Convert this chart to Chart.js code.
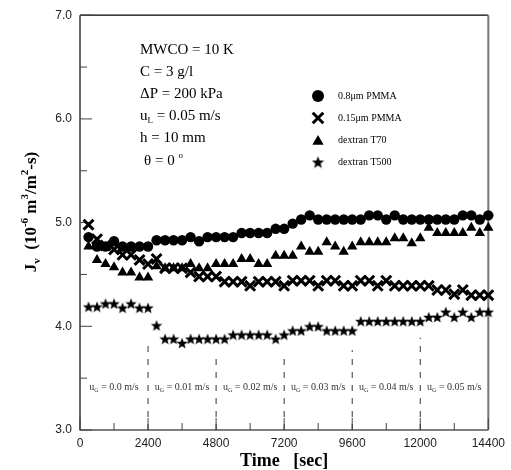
<!DOCTYPE html>
<html>
<head>
<meta charset="utf-8">
<script src="https://cdn.jsdelivr.net/npm/chart.js@4.4.0/dist/chart.umd.min.js"></script>
<style>
  html, body { margin: 0; padding: 0; background: #fff; }
  canvas { display: block; }
</style>
</head>
<body>
<canvas id="fluxChart" width="511" height="470"></canvas>
<script>
// Sampling times (sec)
const timeSec = [300, 600, 900, 1200, 1500, 1800, 2100, 2400, 2700, 3000, 3300, 3600,
  3900, 4200, 4500, 4800, 5100, 5400, 5700, 6000, 6300, 6600, 6900, 7200,
  7500, 7800, 8100, 8400, 8700, 9000, 9300, 9600, 9900, 10200, 10500, 10800,
  11100, 11400, 11700, 12000, 12300, 12600, 12900, 13200, 13500, 13800, 14100, 14400];

// Permeate flux Jv (10^-6 m3/m2-s)
const fluxPmma08 = [4.86, 4.77, 4.77, 4.82, 4.77, 4.77, 4.77, 4.77, 4.83, 4.83, 4.83, 4.83,
  4.86, 4.82, 4.86, 4.86, 4.86, 4.86, 4.90, 4.90, 4.90, 4.90, 4.94, 4.94,
  4.99, 5.03, 5.07, 5.03, 5.03, 5.03, 5.03, 5.03, 5.03, 5.07, 5.07, 5.03,
  5.07, 5.03, 5.03, 5.03, 5.03, 5.03, 5.03, 5.03, 5.07, 5.07, 5.03, 5.07];
const fluxPmma015 = [4.98, 4.84, 4.78, 4.74, 4.69, 4.69, 4.64, 4.60, 4.65, 4.56, 4.56, 4.56,
  4.52, 4.48, 4.48, 4.48, 4.43, 4.43, 4.43, 4.39, 4.43, 4.43, 4.43, 4.39,
  4.44, 4.44, 4.44, 4.39, 4.44, 4.44, 4.39, 4.39, 4.44, 4.44, 4.39, 4.44,
  4.39, 4.39, 4.39, 4.39, 4.39, 4.35, 4.35, 4.31, 4.35, 4.30, 4.30, 4.30];
const fluxT70 = [4.77, 4.64, 4.60, 4.57, 4.52, 4.52, 4.47, 4.47, 4.58, 4.56, 4.56, 4.56,
  4.60, 4.56, 4.56, 4.60, 4.60, 4.60, 4.65, 4.65, 4.60, 4.60, 4.68, 4.68,
  4.68, 4.77, 4.72, 4.72, 4.81, 4.77, 4.72, 4.77, 4.81, 4.81, 4.81, 4.81,
  4.85, 4.85, 4.80, 4.85, 4.95, 4.90, 4.90, 4.90, 4.90, 4.95, 4.90, 4.95];
const fluxT500 = [4.19, 4.19, 4.22, 4.22, 4.18, 4.22, 4.18, 4.18, 4.01, 3.88, 3.88, 3.84,
  3.88, 3.88, 3.88, 3.88, 3.88, 3.92, 3.92, 3.92, 3.92, 3.92, 3.88, 3.92,
  3.96, 3.96, 4.00, 4.00, 3.96, 3.96, 3.96, 3.96, 4.05, 4.05, 4.05, 4.05,
  4.05, 4.05, 4.05, 4.05, 4.09, 4.09, 4.14, 4.09, 4.14, 4.09, 4.14, 4.14];

const seriesLabels = ['0.8\u03bcm PMMA', '0.15\u03bcm PMMA', 'dextran T70', 'dextran T500'];

// Axis ticks
const xTickValues = [0, 2400, 4800, 7200, 9600, 12000, 14400];
const xMinorTicks = [1200, 3600, 6000, 8400, 10800, 13200];
const yTickValues = [3, 4, 5, 6, 7];
const yMinorTicks = [3.5, 4.5, 5.5, 6.5];

// Gas velocity stages
const stageBounds = [0, 2400, 4800, 7200, 9600, 12000, 14400];
const stageVelocities = ['0.0', '0.01', '0.02', '0.03', '0.04', '0.05'];
const dividerTops = [3.85, 3.70, 3.71, 3.77, 3.89];
const stageLabelY = 3.415;

// Operating conditions
const infoLines = [
  [['MWCO = 10 K', 'n']],
  [['C = 3 g/l', 'n']],
  [['\u0394P = 200 kPa', 'n']],
  [['u', 'n'], ['L', 'sub'], [' = 0.05 m/s', 'n']],
  [['h = 10 mm', 'n']],
  [['\u03b8 = 0 ', 'n'], ['o', 'sup']]
];

const SERIF = '"Liberation Serif", "Times New Roman", serif';
const SANS = '"Liberation Sans", Arial, sans-serif';

function makeStar(size) {
  const c = document.createElement('canvas');
  c.width = size; c.height = size;
  const g = c.getContext('2d');
  const cx = size / 2, cy = size / 2 + size * 0.06, R = size / 2, r = R * 0.42;
  g.beginPath();
  for (let k = 0; k < 10; k++) {
    const a = -Math.PI / 2 + k * Math.PI / 5;
    const rad = k % 2 === 0 ? R : r;
    g.lineTo(cx + rad * Math.cos(a), cy + rad * Math.sin(a));
  }
  g.closePath();
  g.fillStyle = '#000';
  g.fill();
  return c;
}
const starImg = makeStar(12);
const starImgLegend = makeStar(13);

const markerStyles = [
  { pointStyle: 'circle', radius: 5.2, borderWidth: 0 },
  { pointStyle: 'crossRot', radius: 7, borderWidth: 3 },
  { pointStyle: 'triangle', radius: 6, borderWidth: 0 },
  { pointStyle: starImg, radius: 6, borderWidth: 0 }
];
const legendStyles = [
  { pointStyle: 'circle', radius: 6, borderWidth: 0 },
  { pointStyle: 'crossRot', radius: 7.5, borderWidth: 3 },
  { pointStyle: 'triangle', radius: 6.5, borderWidth: 0 },
  { pointStyle: starImgLegend, radius: 6.5, borderWidth: 0 }
];

function toPoints(values) {
  return values.map((v, i) => ({ x: timeSec[i], y: v }));
}

const seriesValues = [fluxPmma08, fluxPmma015, fluxT70, fluxT500];
const datasets = seriesValues.map((vals, k) => ({
  label: seriesLabels[k],
  data: toPoints(vals),
  pointStyle: markerStyles[k].pointStyle,
  pointRadius: markerStyles[k].radius,
  pointHoverRadius: markerStyles[k].radius,
  pointBackgroundColor: '#000',
  pointBorderColor: '#000',
  pointBorderWidth: markerStyles[k].borderWidth,
  showLine: false,
  clip: false
}));

// dashed stage dividers
dividerTops.forEach((top, k) => {
  const xb = stageBounds[k + 1];
  datasets.push({
    label: 'divider' + k,
    data: [{ x: xb, y: 3 }, { x: xb, y: top }],
    showLine: true,
    borderColor: '#333',
    borderWidth: 1,
    borderDash: [6, 7],
    pointRadius: 0,
    pointHoverRadius: 0,
    clip: false
  });
});

function drawRich(ctx, parts, x, y, size, bold, align) {
  const base = (bold ? 'bold ' : '') + size + 'px ' + SERIF;
  const small = (bold ? 'bold ' : '') + Math.round(size * 0.62) + 'px ' + SERIF;
  let total = 0;
  const widths = parts.map(([t, k]) => {
    ctx.font = k === 'n' ? base : small;
    const w = ctx.measureText(t).width;
    total += w;
    return w;
  });
  let cx = align === 'center' ? x - total / 2 : x;
  ctx.textAlign = 'left';
  ctx.textBaseline = 'middle';
  parts.forEach(([t, k], i) => {
    ctx.font = k === 'n' ? base : small;
    const dy = k === 'sub' ? size * 0.3 : (k === 'sup' ? -size * 0.38 : 0);
    ctx.fillText(t, cx, y + dy);
    cx += widths[i];
  });
}

const decor = {
  id: 'decor',
  beforeDatasetsDraw(chart) {
    const { ctx, chartArea: a, scales: { x, y } } = chart;
    ctx.save();
    // frame
    ctx.strokeStyle = '#000';
    ctx.lineWidth = 1.2;
    ctx.beginPath();
    ctx.moveTo(a.left, a.top); ctx.lineTo(a.left, a.bottom); ctx.lineTo(a.right, a.bottom);
    ctx.moveTo(a.left, a.top); ctx.lineTo(a.right, a.top);
    ctx.stroke();
    ctx.strokeStyle = '#777';
    ctx.lineWidth = 2;
    ctx.beginPath();
    ctx.moveTo(a.right, a.top); ctx.lineTo(a.right, a.bottom);
    ctx.stroke();
    // inward ticks
    ctx.strokeStyle = '#444';
    ctx.lineWidth = 1;
    ctx.beginPath();
    yTickValues.forEach(v => { const py = y.getPixelForValue(v); ctx.moveTo(a.left, py); ctx.lineTo(a.left + 12, py); });
    yMinorTicks.forEach(v => { const py = y.getPixelForValue(v); ctx.moveTo(a.left, py); ctx.lineTo(a.left + 7, py); });
    xTickValues.forEach(v => { const px = x.getPixelForValue(v); ctx.moveTo(px, a.bottom); ctx.lineTo(px, a.bottom - 12); });
    xMinorTicks.forEach(v => { const px = x.getPixelForValue(v); ctx.moveTo(px, a.bottom); ctx.lineTo(px, a.bottom - 7); });
    ctx.stroke();
    ctx.restore();
  },
  afterDraw(chart) {
    const { ctx, chartArea: a, scales: { x, y } } = chart;
    ctx.save();

    // stage labels
    ctx.fillStyle = '#333';
    stageVelocities.forEach((u, k) => {
      const mid = (x.getPixelForValue(stageBounds[k]) + x.getPixelForValue(stageBounds[k + 1])) / 2;
      drawRich(ctx, [['u', 'n'], ['G', 'sub'], [' = ' + u + ' m/s', 'n']], mid, y.getPixelForValue(stageLabelY), 10, false, 'center');
    });

    // operating conditions
    ctx.fillStyle = '#000';
    const infoY = [50, 72, 94, 116, 138, 161];
    infoLines.forEach((parts, k) => {
      drawRich(ctx, parts, k === 5 ? 144 : 140, infoY[k], 15, false, 'left');
    });

    // legend
    const legY = [96, 118, 140, 162];
    seriesLabels.forEach((lab, k) => {
      ctx.fillStyle = '#000';
      ctx.strokeStyle = '#000';
      const st = legendStyles[k];
      Chart.helpers.drawPoint(ctx, { pointStyle: st.pointStyle, radius: st.radius, rotation: 0, borderWidth: st.borderWidth },
        318, legY[k] + (st.pointStyle === 'triangle' ? 1.5 : 0));
      ctx.font = '10px ' + SERIF;
      ctx.textAlign = 'left';
      ctx.textBaseline = 'middle';
      ctx.fillText(lab, 338, legY[k]);
    });

    // axis titles
    ctx.fillStyle = '#000';
    drawRich(ctx, [['Time   [sec]', 'n']], (a.left + a.right) / 2, 461, 18, true, 'center');
    ctx.translate(32, 212);
    ctx.rotate(-Math.PI / 2);
    drawRich(ctx, [['J', 'n'], ['v', 'sub'], ['  (10', 'n'], ['-6', 'sup'], [' m', 'n'], ['3', 'sup'],
      ['/m', 'n'], ['2', 'sup'], ['-s)', 'n']], 0, 0, 17, true, 'center');
    ctx.restore();
  }
};

new Chart(document.getElementById('fluxChart'), {
  type: 'scatter',
  data: { datasets },
  options: {
    responsive: false,
    animation: false,
    devicePixelRatio: 1,
    events: [],
    layout: { padding: { top: 15, right: 19, left: 0, bottom: 0 } },
    plugins: { legend: { display: false }, tooltip: { enabled: false } },
    scales: {
      x: {
        type: 'linear', min: 0, max: 14400,
        grid: { display: false, drawTicks: false },
        border: { display: false },
        afterBuildTicks: s => { s.ticks = xTickValues.map(v => ({ value: v })); },
        afterFit: s => { s.height = 40; },
        ticks: { padding: 6, color: '#222', maxRotation: 0, autoSkip: false,
          font: { family: SANS, size: 12 }, callback: v => String(v) }
      },
      y: {
        type: 'linear', min: 3, max: 7,
        grid: { display: false, drawTicks: false },
        border: { display: false },
        afterBuildTicks: s => { s.ticks = yTickValues.map(v => ({ value: v })); },
        afterFit: s => { s.width = 80; },
        ticks: { padding: 8, color: '#222', font: { family: SANS, size: 12 },
          callback: v => Number(v).toFixed(1) }
      }
    }
  },
  plugins: [decor]
});
</script>
</body>
</html>
